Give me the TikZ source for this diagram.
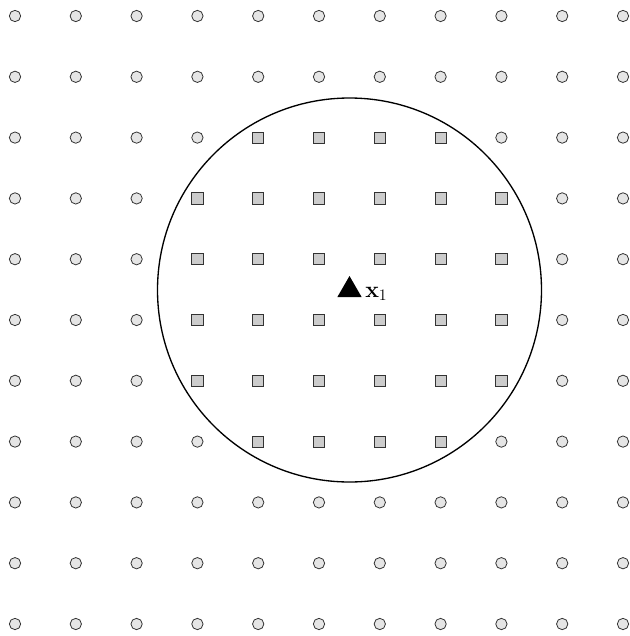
\documentclass[tikz,border=0pt]{standalone}
\usepackage{amsmath,amssymb}
\usetikzlibrary{shapes.geometric}
\begin{document}
\begin{tikzpicture}[x=0.75pt,y=-0.75pt,
  outpt/.style={circle,draw=black!80,fill=black!10,line width=0.6pt,inner sep=0pt,minimum size=8.5pt},
  inpt/.style={rectangle,draw=black!80,fill=black!20,line width=0.6pt,inner sep=0pt,minimum size=8.5pt},
  query/.style={regular polygon,regular polygon sides=3,fill=black,inner sep=0pt,minimum size=21pt}]
\useasboundingbox (0,0) rectangle (629,636);
% grid of points
\foreach \i in {0,...,10}
  \foreach \j in {0,...,10} {
    \pgfmathtruncatemacro\inside{sqrt((\i-5.5)^2+(\j-4.5)^2)<3.16}
    \ifnum\inside=1
      \node[inpt] (p-\i-\j) at ({15+60.8*\i},{16+60.8*\j}) {};
    \else
      \node[outpt] (p-\i-\j) at ({15+60.8*\i},{16+60.8*\j}) {};
    \fi
  }
% query point and its neighbourhood
\node[query] (q) at (349.5,290) {};
\node[anchor=west,inner sep=0pt,font=\LARGE] (ql) at (365,294) {$\mathbf{x}_1$};
\draw[line width=1pt] (q.center) circle (192);
\end{tikzpicture}
\end{document}
